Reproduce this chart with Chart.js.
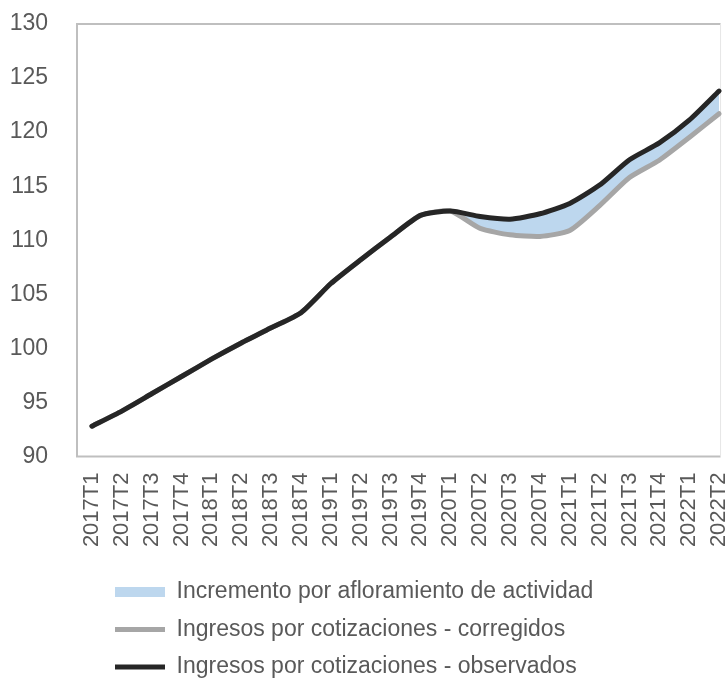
<!DOCTYPE html>
<html lang="es">
<head>
<meta charset="utf-8">
<title>Ingresos por cotizaciones</title>
<script src="https://cdn.jsdelivr.net/npm/chart.js@4/dist/chart.umd.min.js"></script>
<style>
  html, body { margin: 0; padding: 0; background: #fff; overflow: hidden; }
  canvas { display: block; }
</style>
</head>
<body>
<canvas id="cotizacionesChart" width="740" height="679"></canvas>
<script>
// Datos (índice)
const trimestres = [
  "2017T1", "2017T2", "2017T3", "2017T4",
  "2018T1", "2018T2", "2018T3", "2018T4",
  "2019T1", "2019T2", "2019T3", "2019T4",
  "2020T1", "2020T2", "2020T3", "2020T4",
  "2021T1", "2021T2", "2021T3", "2021T4",
  "2022T1", "2022T2",
];
const observados = [
  92.8, 94.2, 95.8, 97.4, 99.0, 100.5, 101.9, 103.3,
  106.0, 108.2, 110.3, 112.3, 112.7, 112.2, 111.95, 112.45,
  113.4, 115.1, 117.45, 119.0, 121.1, 123.8,
];
const corregidos = [
  92.8, 94.2, 95.8, 97.4, 99.0, 100.5, 101.9, 103.3,
  106.0, 108.2, 110.3, 112.3, 112.7, 111.1, 110.5, 110.35,
  110.9, 113.2, 115.8, 117.4, 119.5, 121.7,
];
const ticksY = [90, 95, 100, 105, 110, 115, 120, 125, 130];

const TEXT = "#595959";

// Borde gris del área de trazado (a la derecha se corta junto al último trimestre)
const plotBorder = {
  id: "plotBorder",
  beforeDatasetsDraw(chart) {
    const { ctx, chartArea: a } = chart;
    const x = chart.scales.x;
    const right = x.getPixelForValue(trimestres.length - 1) + 1.5;
    ctx.save();
    ctx.strokeStyle = "#bfbfbf";
    ctx.lineWidth = 2;
    ctx.beginPath();
    ctx.moveTo(right, a.top);
    ctx.lineTo(a.left, a.top);
    ctx.lineTo(a.left, a.bottom);
    ctx.lineTo(right, a.bottom);
    ctx.stroke();
    ctx.strokeStyle = "#e6e6e6";
    ctx.lineWidth = 1;
    ctx.beginPath();
    ctx.moveTo(right, a.top);
    ctx.lineTo(right, a.bottom);
    ctx.stroke();
    ctx.restore();
  },
};

// Leyenda alineada a la izquierda, bajo el eje
const legendOffset = {
  id: "legendOffset",
  afterLayout(chart) {
    const lg = chart.legend;
    const dy = 9.5;
    lg.left = 100.5;
    lg.top += dy;
    lg.bottom += dy;
  },
};

Chart.defaults.font.family = "'Liberation Sans', Arial, sans-serif";
Chart.defaults.font.size = 23;
Chart.defaults.color = TEXT;

new Chart(document.getElementById("cotizacionesChart"), {
  type: "line",
  data: {
    labels: trimestres,
    datasets: [
      {
        label: "Incremento por afloramiento de actividad",
        data: observados,
        fill: { target: 1 },
        backgroundColor: "#bdd7ee",
        borderColor: "transparent",
        borderWidth: 0,
        pointRadius: 0,
        pointStyle: "rect",
        tension: 0.2,
        order: 3,
      },
      {
        label: "Ingresos por cotizaciones - corregidos",
        data: corregidos,
        borderColor: "#a6a6a6",
        backgroundColor: "#a6a6a6",
        borderWidth: 5,
        borderCapStyle: "round",
        borderJoinStyle: "round",
        pointRadius: 0,
        pointStyle: "line",
        tension: 0.2,
        fill: false,
        order: 2,
      },
      {
        label: "Ingresos por cotizaciones - observados",
        data: observados,
        borderColor: "#262626",
        backgroundColor: "#262626",
        borderWidth: 5,
        borderCapStyle: "round",
        borderJoinStyle: "round",
        pointRadius: 0,
        pointStyle: "line",
        tension: 0.2,
        fill: false,
        order: 1,
      },
    ],
  },
  options: {
    responsive: false,
    animation: false,
    layout: {
      padding: { top: 24, left: 10, right: 6, bottom: 0 },
    },
    plugins: {
      legend: {
        position: "bottom",
        align: "start",
        labels: {
          usePointStyle: true,
          pointStyleWidth: 50,
          boxHeight: 10,
          padding: 14.5,
          color: TEXT,
          sort: (a, b) => a.datasetIndex - b.datasetIndex,
        },
      },
      tooltip: { enabled: false },
    },
    scales: {
      x: {
        offset: true,
        grid: { display: false, drawTicks: false },
        border: { display: false },
        ticks: {
          autoSkip: false,
          minRotation: 90,
          maxRotation: 90,
          padding: 16,
          color: TEXT,
          font: { size: 22 },
        },
        afterFit(scale) {
          scale.height = 100;
          scale.paddingLeft = 0;
          scale.paddingRight = 0;
        },
      },
      y: {
        min: ticksY[0],
        max: ticksY[ticksY.length - 1],
        grid: { display: false, drawTicks: false },
        border: { display: false },
        ticks: { padding: 29, color: TEXT },
        afterBuildTicks(scale) {
          scale.ticks = ticksY.map((v) => ({ value: v }));
        },
        afterFit(scale) {
          scale.width = 67;
          scale.paddingTop = 14;
          scale.paddingBottom = 14;
        },
      },
    },
  },
  plugins: [plotBorder, legendOffset],
});
</script>
</body>
</html>
